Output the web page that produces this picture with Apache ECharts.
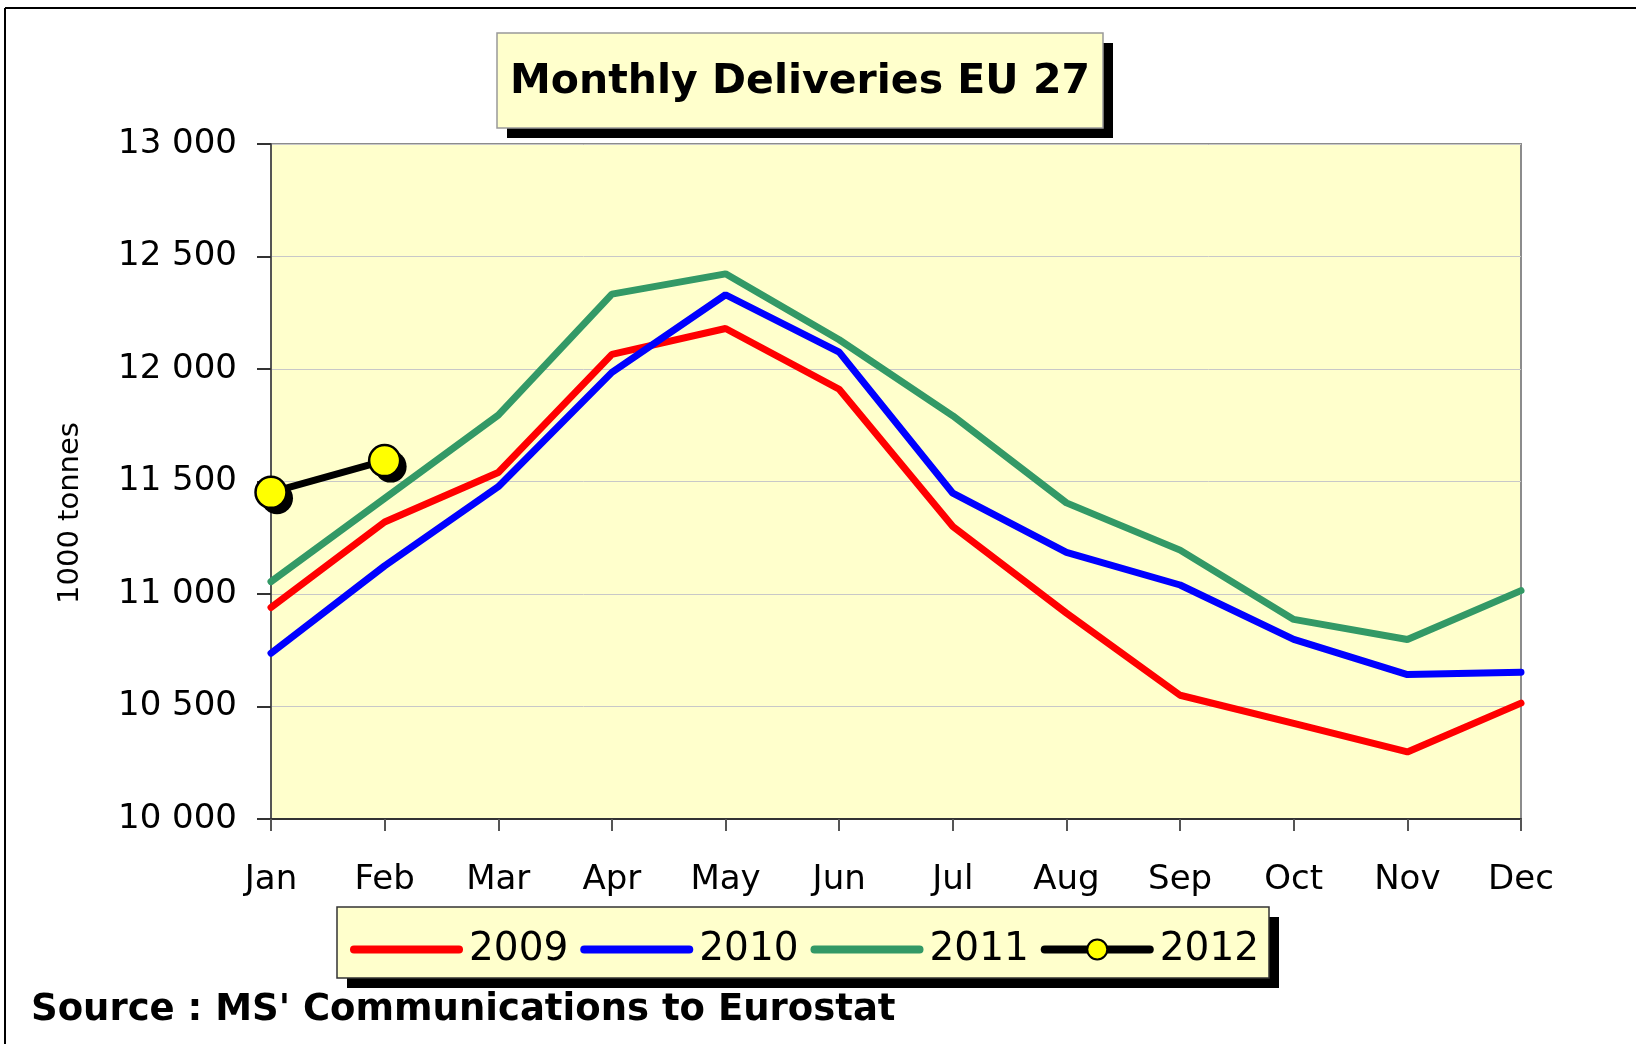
<!DOCTYPE html>
<html>
<head>
<meta charset="utf-8">
<script src="https://cdn.jsdelivr.net/npm/echarts@6/dist/echarts.min.js"></script>
<style>
html, body { margin: 0; padding: 0; background: #fff; }
#chart { width: 1636px; height: 1044px; }
</style>
</head>
<body>
<div id="chart"></div>
<script>
// 月份和各年数据
var months = ['Jan', 'Feb', 'Mar', 'Apr', 'May', 'Jun', 'Jul', 'Aug', 'Sep', 'Oct', 'Nov', 'Dec'];
var d2009 = [10940, 11320, 11540, 12065, 12180, 11910, 11300, 10915, 10550, 10425, 10298, 10515];
var d2010 = [10737, 11125, 11477, 11985, 12330, 12075, 11448, 11185, 11040, 10798, 10642, 10652];
var d2011 = [11055, 11425, 11795, 12333, 12423, 12130, 11792, 11405, 11195, 10887, 10798, 11015];
var d2012 = [11452, 11593];
var yTicks = [10000, 10500, 11000, 11500, 12000, 12500, 13000];

var chart = echarts.init(document.getElementById('chart'));
var font = 'DejaVu Sans';

// 千位用空格分隔
function fmt(v) {
    var s = String(v);
    return s.slice(0, s.length - 3) + ' ' + s.slice(-3);
}

var option = {
    animation: false,
    backgroundColor: '#fff',
    grid: {
        left: 271, right: 115, top: 144, height: 675,
        show: true,
        backgroundColor: '#FFFFCC',
        borderColor: '#8c8c8c',
        borderWidth: 2
    },
    xAxis: {
        type: 'category',
        data: months,
        boundaryGap: false,
        axisLine: { lineStyle: { color: '#333', width: 2 } },
        axisTick: { length: 12, lineStyle: { color: '#555', width: 2 } },
        axisLabel: { margin: 44, color: '#000', fontFamily: font, fontSize: 34 },
        splitLine: { show: false }
    },
    yAxis: {
        type: 'value',
        min: yTicks[0],
        max: yTicks[yTicks.length - 1],
        interval: 500,
        axisLine: { show: true, lineStyle: { color: '#555', width: 2 } },
        axisTick: { show: true, length: 14, lineStyle: { color: '#333', width: 2 } },
        axisLabel: { margin: 34, color: '#000', fontFamily: font, fontSize: 34, formatter: fmt },
        splitLine: { lineStyle: { color: '#c8c8c8', width: 1 } }
    },
    legend: {
        left: 350,
        top: 930,
        padding: 0,
        itemWidth: 105,
        itemHeight: 25,
        itemGap: 12,
        textStyle: { fontFamily: font, fontSize: 39, color: '#000', padding: [0, 0, 0, 5] },
        lineStyle: { width: 8, cap: 'round' },
        data: [
            { name: '2009', itemStyle: { opacity: 0 } },
            { name: '2010', itemStyle: { opacity: 0 } },
            { name: '2011', itemStyle: { opacity: 0 } },
            { name: '2012', itemStyle: { color: '#FFFF00', borderColor: '#000', borderWidth: 2 } }
        ]
    },
    graphic: [
        // 外框
        { type: 'line', shape: { x1: 5, y1: 8, x2: 1636, y2: 8 }, style: { stroke: '#000', lineWidth: 2 } },
        { type: 'line', shape: { x1: 5, y1: 8, x2: 5, y2: 1044 }, style: { stroke: '#000', lineWidth: 2 } },
        // 标题框
        { type: 'rect', z: -10, shape: { x: 507, y: 43, width: 606, height: 95 }, style: { fill: '#000' } },
        { type: 'rect', z: -9, shape: { x: 497, y: 33, width: 606, height: 95 }, style: { fill: '#FFFFCC', stroke: '#999', lineWidth: 1.5 } },
        { type: 'text', z: 10, style: { x: 800, y: 82, text: 'Monthly Deliveries EU 27', font: 'bold 41px "DejaVu Sans"', fill: '#000', align: 'center', verticalAlign: 'middle' } },
        // 图例框
        { type: 'rect', z: -10, shape: { x: 347, y: 917, width: 932, height: 71 }, style: { fill: '#000' } },
        { type: 'rect', z: -9, shape: { x: 337, y: 907, width: 932, height: 71 }, style: { fill: '#FFFFCC', stroke: '#333', lineWidth: 1.5 } },
        // 纵轴名称
        { type: 'text', z: 10, rotation: Math.PI / 2, x: 70, y: 513, style: { x: 0, y: 0, text: '1000 tonnes', font: '29px "DejaVu Sans"', fill: '#000', align: 'center', verticalAlign: 'middle' } },
        // 数据来源
        { type: 'text', z: 10, style: { x: 31, y: 1010, text: "Source : MS' Communications to Eurostat", font: 'bold 37px "DejaVu Sans"', fill: '#000', align: 'left', verticalAlign: 'middle' } }
    ],
    series: [
        {
            name: '2009', type: 'line', data: d2009, symbol: 'none',
            color: '#FF0000',
            lineStyle: { width: 7, color: '#FF0000', cap: 'round' }
        },
        {
            name: '2010', type: 'line', data: d2010, symbol: 'none',
            color: '#0000FF',
            lineStyle: { width: 7, color: '#0000FF', cap: 'round' }
        },
        {
            name: '2011', type: 'line', data: d2011, symbol: 'none',
            color: '#339966',
            lineStyle: { width: 7, color: '#339966', cap: 'round' }
        },
        {
            // 2012 圆点阴影
            name: '2012 shadow', type: 'scatter', data: d2012,
            symbol: 'circle', symbolSize: 32, symbolOffset: [6, 6],
            itemStyle: { color: '#000', opacity: 1 },
            silent: true,
            z: 4
        },
        {
            name: '2012', type: 'line', data: d2012, symbol: 'circle', symbolSize: 31,
            color: '#000',
            lineStyle: { width: 7, color: '#000' },
            itemStyle: { color: '#FFFF00', borderColor: '#000', borderWidth: 2.5 },
            z: 5
        }
    ]
};

chart.setOption(option);
</script>
</body>
</html>
